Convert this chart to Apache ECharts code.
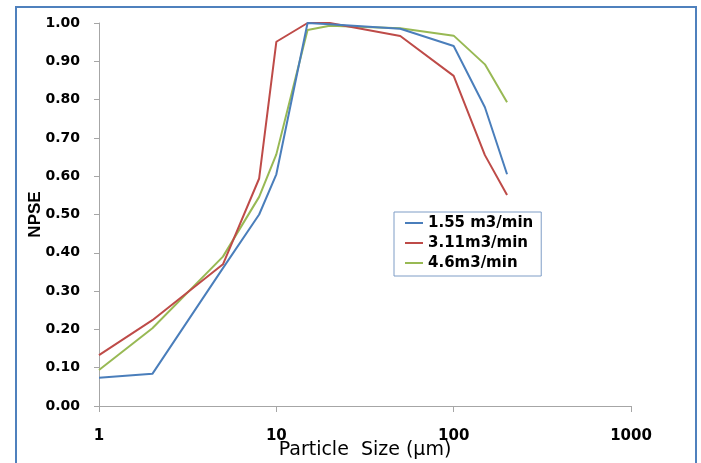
<!DOCTYPE html>
<html>
<head>
<meta charset="utf-8">
<script src="https://cdn.jsdelivr.net/npm/echarts@6/dist/echarts.min.js"></script>
<style>
html,body{margin:0;padding:0;background:#fff;}
#c{width:701px;height:463px;}
</style>
</head>
<body>
<div id="c"></div>
<script>
const particleSizes = [1, 2, 5, 8, 10, 15, 20, 50, 100, 150, 200];
const seriesNames = ['1.55 m3/min', '3.11m3/min', '4.6m3/min'];
const npse155 = [0.074, 0.084, 0.36, 0.50, 0.605, 1.00, 0.997, 0.985, 0.94, 0.78, 0.605];
const npse311 = [0.133, 0.224, 0.37, 0.594, 0.951, 1.00, 1.00, 0.966, 0.862, 0.655, 0.551];
const npse46  = [0.094, 0.203, 0.39, 0.546, 0.657, 0.982, 0.993, 0.986, 0.967, 0.892, 0.793];
const colors = ['#4A7EBB', '#BE4B48', '#98B954'];

const chart = echarts.init(document.getElementById('c'));
const bold = '"DejaVu Sans", "Liberation Sans", sans-serif';
function pairs(v){ return particleSizes.map((x,i)=>[x, v[i]]); }
const allData = [npse155, npse311, npse46];

chart.setOption({
  animation: false,
  backgroundColor: '#fff',
  textStyle: {fontFamily: bold},
  graphic: [{
    type: 'rect',
    shape: {x: 16, y: 7, width: 680, height: 470},
    style: {fill: 'none', stroke: '#4F81BD', lineWidth: 2},
    silent: true
  }],
  grid: {left: 99, right: 70, top: 23, bottom: 57, containLabel: false, outerBoundsMode: 'none'},
  legend: {
    left: 394, top: 212,
    orient: 'vertical',
    itemWidth: 18, itemHeight: 2, itemGap: 4,
    icon: 'rect',
    padding: [3, 8, 5, 11],
    borderColor: '#7F9DC6', borderWidth: 1,
    backgroundColor: '#fff',
    textStyle: {fontFamily: bold, fontWeight: 'bold', fontSize: 15, lineHeight: 16, color: '#000'},
    data: seriesNames
  },
  xAxis: {
    type: 'log', logBase: 10, min: 1, max: 1000,
    name: 'Particle  Size (\u00b5m)', nameLocation: 'middle', nameGap: 35, nameMoveOverlap: false,
    nameTextStyle: {fontFamily: bold, fontSize: 19, color: '#000'},
    axisLine: {lineStyle: {color: '#A6A6A6', width: 1}},
    axisTick: {show: true, inside: false, length: 6, lineStyle: {color: '#A6A6A6'}},
    minorTick: {show: false},
    splitLine: {show: false},
    axisLabel: {fontFamily: bold, fontWeight: 'bold', fontSize: 15, color: '#000', margin: 23,
      formatter: v => String(Math.round(v))}
  },
  yAxis: {
    type: 'value', min: 0, max: 1, interval: 0.1,
    name: 'NPSE', nameLocation: 'middle', nameGap: 55, nameRotate: 90, nameMoveOverlap: false,
    nameTextStyle: {fontFamily: '"Liberation Sans", Arial, sans-serif', fontWeight: 'bold', fontSize: 17, color: '#000'},
    axisLine: {show: true, lineStyle: {color: '#A6A6A6', width: 1}},
    axisTick: {show: true, inside: false, length: 5, lineStyle: {color: '#A6A6A6'}},
    splitLine: {show: false},
    axisLabel: {fontFamily: bold, fontWeight: 'bold', fontSize: 14, color: '#000', margin: 19,
      formatter: v => v.toFixed(2)}
  },
  series: seriesNames.map((n, i) => ({
    name: n, type: 'line', data: pairs(allData[i]),
    showSymbol: false, symbol: 'none',
    lineStyle: {color: colors[i], width: 2},
    itemStyle: {color: colors[i]},
    z: 3 - i
  }))
});
</script>
</body>
</html>
